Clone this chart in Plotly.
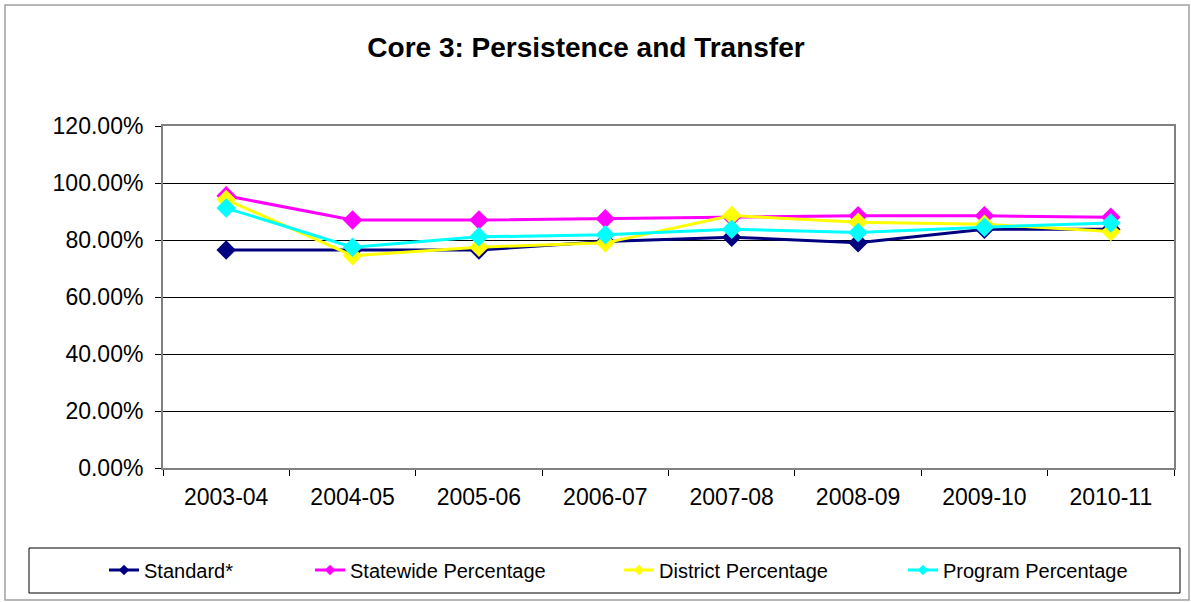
import plotly.graph_objects as go

years = ["2003-04", "2004-05", "2005-06", "2006-07", "2007-08", "2008-09", "2009-10", "2010-11"]
standard = [0.765, 0.765, 0.765, 0.795, 0.81, 0.79, 0.838, 0.838]
statewide = [0.955, 0.87, 0.87, 0.875, 0.881, 0.885, 0.885, 0.88]
district = [0.942, 0.745, 0.775, 0.79, 0.886, 0.862, 0.855, 0.83]
program = [0.912, 0.775, 0.811, 0.818, 0.838, 0.826, 0.845, 0.86]

names = ["Standard*", "Statewide Percentage", "District Percentage", "Program Percentage"]
colors = ["#000080", "#FF00FF", "#FFFF00", "#00FFFF"]
series = [standard, statewide, district, program]

FONT = "Liberation Sans, Arial, sans-serif"
W, H = 1191, 602
L, R, T, B = 163, 1174, 126, 468

fig = go.Figure()
for nm, col, vals in zip(names, colors, series):
    fig.add_trace(go.Scatter(
        x=years, y=vals, mode="lines+markers", name=nm, showlegend=False,
        line=dict(color=col, width=3),
        marker=dict(symbol="diamond", size=15, color=col),
    ))

# legend-only entries (no data), one legend each so they sit where the original puts them
leg_x = [104, 310, 619, 903]
for i, (nm, col) in enumerate(zip(names, colors)):
    lname = "legend" if i == 0 else f"legend{i+1}"
    fig.add_trace(go.Scatter(
        x=[None], y=[None], mode="lines+markers", name=nm, legend=lname,
        line=dict(color=col, width=3),
        marker=dict(symbol="diamond", size=8, color=col),
    ))

legend_common = dict(
    xref="container", yref="container", xanchor="left", yanchor="middle",
    y=1 - 570 / H, bgcolor="rgba(0,0,0,0)", borderwidth=0,
    font=dict(family=FONT, size=20, color="black"), orientation="h",
)
layout_legends = {}
for i, lx in enumerate(leg_x):
    lname = "legend" if i == 0 else f"legend{i+1}"
    layout_legends[lname] = dict(legend_common, x=lx / W)


def px_x(p):
    return (p - L) / (R - L)


def px_y(p):
    return (B - p) / (B - T)


fig.update_layout(
    width=W, height=H,
    margin=dict(l=L, r=W - R, t=T, b=H - B),
    paper_bgcolor="white", plot_bgcolor="white",
    title=dict(text="<b>Core 3: Persistence and Transfer</b>", x=586 / W, xanchor="center",
               y=1 - 47 / H, yanchor="middle",
               font=dict(family=FONT, size=28, color="black")),
    xaxis=dict(
        type="category", range=[-0.5, 7.5], tickson="boundaries",
        ticks="outside", ticklen=6, tickcolor="black",
        showline=True, linecolor="#808080", linewidth=2, mirror=True,
        showgrid=False, ticklabelstandoff=7,
        tickfont=dict(family=FONT, size=23, color="black"),
    ),
    yaxis=dict(
        range=[0, 1.2], dtick=0.2, tickformat=".2%",
        ticks="outside", ticklen=6, tickcolor="black",
        showline=True, linecolor="#808080", linewidth=2, mirror=True,
        showgrid=True, gridcolor="black", gridwidth=1, zeroline=False,
        ticklabelstandoff=7,
        tickfont=dict(family=FONT, size=23, color="black"),
    ),
    shapes=[
        dict(type="rect", xref="paper", yref="paper",
             x0=px_x(5), x1=px_x(1189), y0=px_y(600), y1=px_y(5),
             line=dict(color="#A0A0A0", width=1.5), fillcolor="rgba(0,0,0,0)", layer="below"),
        dict(type="rect", xref="paper", yref="paper",
             x0=px_x(29), x1=px_x(1180), y0=px_y(593), y1=px_y(548),
             line=dict(color="black", width=1), fillcolor="rgba(0,0,0,0)"),
    ],
    **layout_legends,
)

fig.write_html("out.html", config={"displayModeBar": False},
               post_script="document.body.style.margin='0';")
